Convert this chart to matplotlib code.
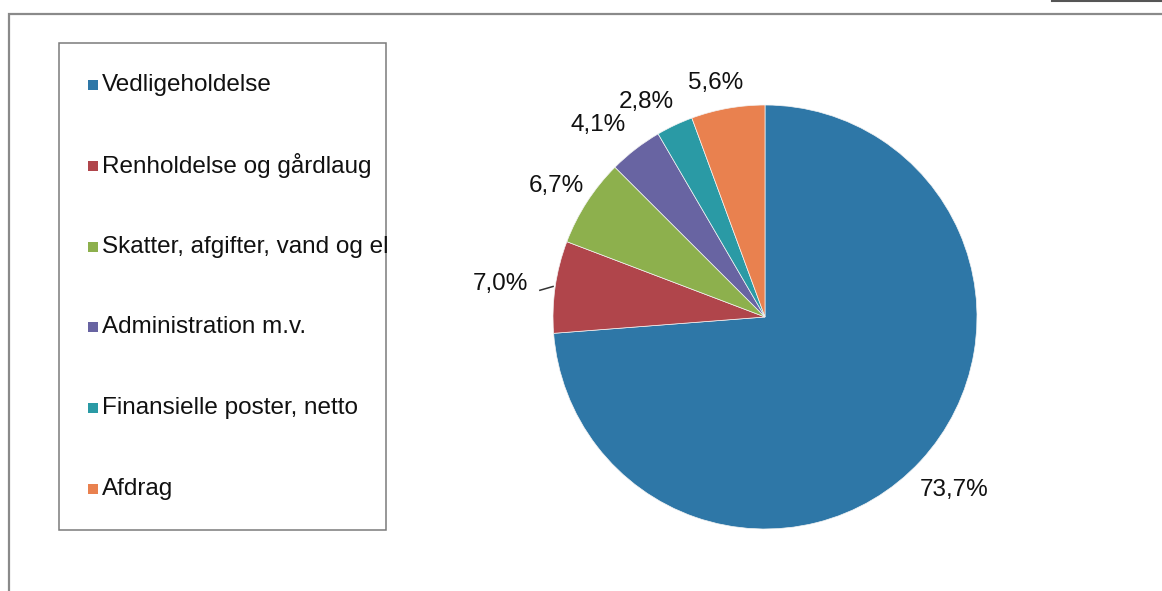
import numpy as np
import matplotlib
matplotlib.use("Agg")
import matplotlib.pyplot as plt
from matplotlib.patches import Rectangle

categories = ["Vedligeholdelse", "Renholdelse og gårdlaug", "Skatter, afgifter, vand og el",
              "Administration m.v.", "Finansielle poster, netto", "Afdrag"]
shares = [73.7, 7.0, 6.7, 4.1, 2.8, 5.6]
labels = ["73,7%", "7,0%", "6,7%", "4,1%", "2,8%", "5,6%"]
colors = ["#2e77a7", "#b0454b", "#8db04d", "#6864a2", "#2a9aa5", "#e9814f"]

plt.rcParams["font.family"] = ["Liberation Sans", "DejaVu Sans"]

W, H = 1162, 591
fig = plt.figure(figsize=(W / 100, H / 100), dpi=100)

def fx(px):
    return px / W

def fy(py):
    return 1 - py / H

# outer chart frame (runs off the right and bottom of the scan)
fig.patches.append(Rectangle((fx(9), fy(700)), fx(1300), fy(14) - fy(700), transform=fig.transFigure,
                             fill=False, edgecolor="#8a8a8a", lw=1.6))
fig.lines.append(plt.Line2D([fx(1052), fx(1162)], [fy(1), fy(1)], transform=fig.transFigure,
                            color="#555555", lw=1.5))

# legend box
fig.patches.append(Rectangle((fx(59), fy(530)), fx(386) - fx(59), fy(43) - fy(530),
                             transform=fig.transFigure, fill=False, edgecolor="#7a7a7a", lw=1.1))
for i, (cat, col) in enumerate(zip(categories, colors)):
    yc = 85 + i * 80.8
    fig.patches.append(Rectangle((fx(88), fy(yc + 5)), fx(10), fy(yc - 5) - fy(yc + 5),
                                 transform=fig.transFigure, color=col, lw=0))
    fig.text(fx(102), fy(yc), cat, fontsize=17.5, color="#111111", va="center", ha="left")

# pie
cx, cy, r = 765, 317, 212
ax = fig.add_axes([fx(cx - r), fy(cy + r), 2 * r / W, 2 * r / H])
wedges, _ = ax.pie(shares, colors=colors, startangle=90, counterclock=False, radius=1,
                   wedgeprops=dict(linewidth=0.5, edgecolor="#f4f4f4"))
ax.set_xlim(-1, 1)
ax.set_ylim(-1, 1)
ax.set_aspect("equal")
ax.axis("off")

label_dist = [1.21, 1.26, 1.16, 1.2, 1.16, 1.13]
angle_shift = [0.3, 1.0, 0.8, 3.3, 3.6, 1.8]
for w, lab, d, da in zip(wedges, labels, label_dist, angle_shift):
    ang = np.deg2rad((w.theta1 + w.theta2) / 2 + da)
    ax.text(d * np.cos(ang), d * np.sin(ang), lab, fontsize=17.5, color="#111111",
            ha="center", va="center")

# leader line for the 7,0% label
mid = np.deg2rad((wedges[1].theta1 + wedges[1].theta2) / 2)
ax.plot([1.01 * np.cos(mid), 1.07 * np.cos(mid + 0.02)],
        [1.01 * np.sin(mid), 1.01 * np.sin(mid) - 0.018], color="#333333", lw=1.1, clip_on=False)

fig.savefig("out.png", dpi=100, facecolor="white")
